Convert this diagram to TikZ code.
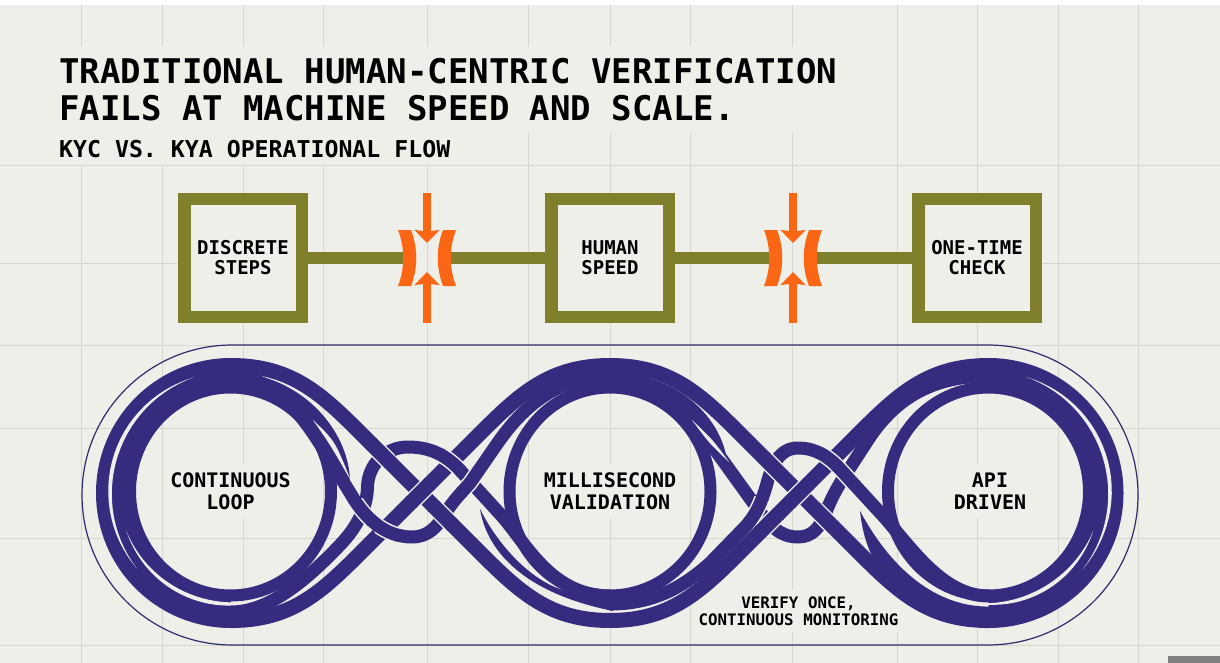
\documentclass[tikz,border=0pt]{standalone}
\usepackage{xcolor}
\usepackage{fontspec}
\setmonofont{DejaVu Sans Mono}
\usetikzlibrary{positioning,arrows.meta}
\definecolor{paper}{HTML}{EFEFEA}
\definecolor{gridc}{HTML}{D7D7D1}
\definecolor{olive}{HTML}{7F7F2C}
\definecolor{flame}{HTML}{FA6614}
\definecolor{ink}{HTML}{362C7F}
\definecolor{rim}{HTML}{2F2C6E}
\tikzset{
  gridln/.style={draw=gridc, line width=1pt},
  stepbox/.style={draw=olive, fill=paper, line width=12.5pt, minimum size=117.5pt, inner sep=0pt, align=center, font=\fontsize{19}{20}\selectfont\ttfamily\bfseries},
  link/.style={draw=olive, line width=12.5pt},
  pinchpt/.style={minimum width=40pt, minimum height=10pt, inner sep=0pt},
  squeeze/.style={draw=flame, line width=8.6pt, -{Stealth[width=25pt,length=13pt,inset=1.5pt]}},
  jaw/.style={fill=flame},
  band/.style={draw=ink, line width=12pt},
  wide/.style={draw=ink, line width=15pt},
  arch/.style={draw=ink, line width=13pt},
  casew/.style={draw=paper, line width=18pt},
  casea/.style={draw=paper, line width=16pt},
  sliver/.style={fill=paper},
  ringlbl/.style={fill=paper, inner xsep=2pt, inner ysep=9pt, align=center, font=\fontsize{20}{22}\selectfont\ttfamily\bfseries}
}
% outer strands
\newcommand{\DownL}{(231,365.5) .. controls (290.5,365.5) and (320.5,393) .. (360.5,433) -- (480.5,553) .. controls (520.5,593) and (550.5,620.5) .. (610,620.5)}
\newcommand{\UpL}{(231,620.5) .. controls (290.5,620.5) and (320.5,593) .. (360.5,553) -- (480.5,433) .. controls (520.5,393) and (550.5,365.5) .. (610,365.5)}
\newcommand{\DownR}{(610,365.5) .. controls (669.25,365.5) and (699.25,393) .. (739.25,433) -- (859.25,553) .. controls (899.25,593) and (929.25,620.5) .. (988.5,620.5)}
\newcommand{\UpR}{(610,620.5) .. controls (669.25,620.5) and (699.25,593) .. (739.25,553) -- (859.25,433) .. controls (899.25,393) and (929.25,365.5) .. (988.5,365.5)}
% inner strands
\newcommand{\TopL}{(231,612) .. controls (265,612) and (300,587) .. (340,545) .. controls (358,526) and (367,507) .. (367.5,487) .. controls (368,465) and (385,447) .. (408,447) .. controls (430,447) and (445,455) .. (458,468) -- (500,514) .. controls (525,541) and (550,596) .. (610,596)}
\newcommand{\LowL}{(231,376) .. controls (272,376) and (300,412) .. (322,447) -- (352,496) .. controls (365,518) and (385,537) .. (412,537) .. controls (428,537) and (437,527) .. (445,514) .. controls (452,502) and (462,492) .. (470,483) -- (497,444) .. controls (515,418) and (550,376) .. (610,376)}
\newcommand{\TopR}{(610,604) .. controls (650,604) and (680,590) .. (710,563) -- (745,527) .. controls (757,514) and (762,500) .. (766,487) .. controls (771,468) and (778,448) .. (798,448) .. controls (815,448) and (828,456) .. (840,469) -- (885,518) .. controls (915,553) and (945,596) .. (988.5,596)}
\newcommand{\LowR}{(610,376) .. controls (650,376) and (683,404) .. (708,440) -- (757,508) .. controls (770,526) and (780,537) .. (798,537) .. controls (812,537) and (820,528) .. (826,512) .. controls (831,499) and (836,490) .. (842,480) -- (866,443) .. controls (890,405) and (925,376) .. (988.5,376)}
\newcommand{\overw}[3]{\begin{scope}\clip (#1,#2) circle (14); \draw[casew] #3; \end{scope}\begin{scope}\clip (#1,#2) circle (15.5); \draw[wide] #3; \end{scope}}
\newcommand{\overa}[3]{\begin{scope}\clip (#1,#2) circle (14); \draw[casea] #3; \end{scope}\begin{scope}\clip (#1,#2) circle (15.5); \draw[arch] #3; \end{scope}}
\newcommand{\lens}[5]{\fill[sliver] plot[domain=#3:#4,samples=30,variable=\t] ({#1+(#2+#5*sin((\t-#3)/(#4-#3)*180)/2)*cos(\t)},{492.5-(#2+#5*sin((\t-#3)/(#4-#3)*180)/2)*sin(\t)}) -- plot[domain=#4:#3,samples=30,variable=\t] ({#1+(#2-#5*sin((\t-#3)/(#4-#3)*180)/2)*cos(\t)},{492.5-(#2-#5*sin((\t-#3)/(#4-#3)*180)/2)*sin(\t)}) -- cycle;}
\begin{document}
\begin{tikzpicture}[x=1pt,y=-1pt]
  \useasboundingbox (0,0) rectangle (1220,663);
  \fill[white] (0,0) rectangle (1220,663);
  \fill[paper] (0,5) rectangle (1220,663);
  \fill[gray] (1168,656) rectangle (1220,663);
  % grid
  \foreach \gx in {81,162,243,323,427,528,610,690,792,897,977,1058,1138}
    \draw[gridln] (\gx,5) -- (\gx,663);
  % heading
  \node[anchor=north west, fill=paper, inner sep=12pt, align=left, font=\fontsize{34}{37}\selectfont\ttfamily\bfseries] (title) at (47,46.5) {TRADITIONAL HUMAN-CENTRIC VERIFICATION\\FAILS AT MACHINE SPEED AND SCALE.};
  \node[anchor=north west, fill=paper, inner xsep=12pt, inner ysep=9pt, font=\fontsize{23.2}{26}\selectfont\ttfamily\bfseries] (subtitle) at (47,131) {KYC VS. KYA OPERATIONAL FLOW};
  \foreach \gy in {166,345,428,538,645}
    \draw[gridln] (0,\gy) -- (1220,\gy);
  \draw[gridln] (0,263) -- (178,263);
  \draw[gridln] (1042,263) -- (1220,263);
  % top row
  \node[stepbox] (discrete) at (243,258) {DISCRETE\\STEPS};
  \node[stepbox] (human) at (610,258) {HUMAN\\SPEED};
  \node[stepbox] (onetime) at (977,258) {ONE-TIME\\CHECK};
  \foreach \px/\pn in {427/pa,793/pb}{
    \node[pinchpt] (\pn) at (\px,258) {};
    \coordinate (\pn t) at (\px,193);
    \coordinate (\pn u) at (\px,243);
    \coordinate (\pn b) at (\px,323);
    \coordinate (\pn c) at (\px,272);
  }
  \draw[link] (discrete) -- (pa);
  \draw[link] (pa) -- (human);
  \draw[link] (human) -- (pb);
  \draw[link] (pb) -- (onetime);
  \foreach \px in {427,793}{
    \foreach \sd in {-1,1}
      \fill[jaw] ({\px+\sd*29},230) -- ({\px+\sd*16},230) .. controls ({\px+\sd*9},248) and ({\px+\sd*9},268) .. ({\px+\sd*16},286) -- ({\px+\sd*29},286) .. controls ({\px+\sd*22},268) and ({\px+\sd*22},248) .. cycle;
  }
  \foreach \pn in {pa,pb}{
    \draw[squeeze] (\pn t) -- (\pn u);
    \draw[squeeze] (\pn b) -- (\pn c);
  }
  % track
  \node[draw=rim, line width=1.2pt, rounded corners=150pt, minimum width=1056pt, minimum height=300pt, inner sep=0pt] (track) at (610,495) {};
  \node[ringlbl] (loopa) at (230.5,491.5) {CONTINUOUS\\LOOP};
  \node[ringlbl] (loopb) at (610,491.5) {MILLISECOND\\VALIDATION};
  \node[ringlbl] (loopc) at (990,491.5) {API\\DRIVEN};
  \node[fill=paper, inner sep=6pt, align=center, font=\fontsize{15.8}{17.5}\selectfont\ttfamily\bfseries] (verify) at (798.5,611) {VERIFY ONCE,\\CONTINUOUS MONITORING};
  % rings
  \foreach \rx in {230.5,610,988.5}
    \draw[band] (\rx,491.5) ellipse[x radius=100.5, y radius=104];
  \foreach \sx/\sc in {0/1,1219.5/-1}{
    \begin{scope}[shift={(\sx,0)},xscale=\sc]
      \draw[arch,line width=18pt] (236,378.5) -- (231,378.5) .. controls (168,378.5) and (117.5,429) .. (117.5,492) .. controls (117.5,555) and (168,605.5) .. (231,605.5);
      \draw[wide] (236,365.5) -- (231,365.5) .. controls (160.6,365.5) and (103.5,422.6) .. (103.5,493) .. controls (103.5,563.4) and (160.6,620.5) .. (231,620.5) -- (236,620.5);
    \end{scope}
  }
  % crescents
  \fill[ink] (350,481) .. controls (349,430) and (300,372) .. (227,372) -- (227,392) .. controls (280,392) and (320,430) .. cycle;
  \fill[ink] (727,461) .. controls (722,420) and (680,372) .. (606,372) -- (606,392) .. controls (660,392) and (700,425) .. cycle;
  \fill[ink] (480,509) .. controls (485,540) and (510,590) .. (613,611) -- (613,590) -- (563,590) .. controls (530,580) and (498,545) .. cycle;
  \fill[ink] (860,511) .. controls (866,570) and (900,606) .. (960,618) -- (992,618) -- (992,606.5) .. controls (950,608) and (900,585) .. cycle;
  \lens{231}{121}{108}{219}{4}
  \lens{231}{111.5}{200}{300}{4}
  \lens{988.5}{121.5}{72}{-39}{4}
  \lens{988.5}{111.5}{-20}{-100}{4}
  % strands
  \draw[arch] \TopL;
  \draw[arch] \LowL;
  \draw[wide] \DownL;
  \draw[wide] \UpL;
  \draw[arch] \TopR;
  \draw[arch] \LowR;
  \draw[wide] \DownR;
  \draw[wide] \UpR;
  % thin gaps on the strands
  \fill[sliver] (313,420) .. controls (335,441) .. (351,481) .. controls (331,446) .. cycle;
  \fill[sliver] (692,420) .. controls (713,440) .. (729,462) .. controls (709,443) .. cycle;
  % left knot
  \overw{420.5}{493}{\UpL}
  \overw{381}{453}{\DownL}
  \overa{451}{462}{\TopL}
  \overa{471}{482}{\LowL}
  \overw{443}{516}{\DownL}
  \overa{388}{528}{\LowL}
  \overa{361}{512}{\LowL}
  % right knot
  \overw{799.25}{493}{\UpR}
  \overw{773}{467}{\DownR}
  \overa{831}{461}{\TopR}
  \overa{846}{475}{\TopR}
  \overw{824}{518}{\DownR}
  \overw{769}{523}{\UpR}
  \overa{757}{510}{\TopR}
\end{tikzpicture}
\end{document}
